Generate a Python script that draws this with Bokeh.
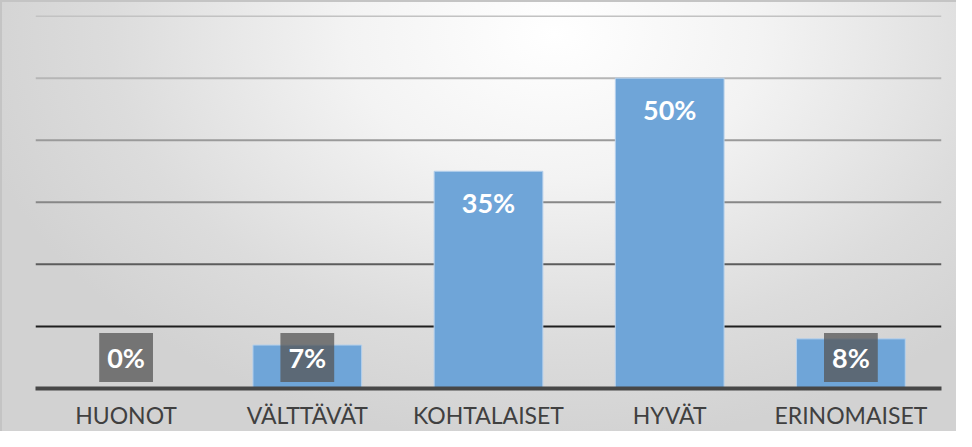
from bokeh.plotting import figure
from bokeh.models import ColumnDataSource, Span, FactorRange
from bokeh.core.properties import value
from bokeh.embed import file_html
from bokeh.resources import INLINE

categories = ["HUONOT", "VÄLTTÄVÄT", "KOHTALAISET", "HYVÄT", "ERINOMAISET"]
values = [0.0, 0.07, 0.35, 0.50, 0.08]
labels = ["0%", "7%", "35%", "50%", "8%"]
grid_values = [0.1, 0.2, 0.3, 0.4, 0.5, 0.6]
grid_colors = ["#1f1f1f", "#5c5c5c", "#878787", "#9a9a9a", "#b6b6b6", "#c2c2c2"]

FONT = "Lato"

p = figure(
    x_range=FactorRange(factors=categories, range_padding=0),
    y_range=(0, 0.601),
    width=956, height=431,
    output_backend="svg", toolbar_location=None,
    min_border_left=35, min_border_right=15,
    min_border_top=15, min_border_bottom=42,
)
p.background_fill_color = None
p.border_fill_color = None
p.outline_line_color = None
p.styles = {
    "background": "radial-gradient(ellipse 62% 95% at 58% 8%, #ffffff 0%, #f3f3f3 35%, #dcdcdc 75%, #d2d2d2 100%)",
    "box-shadow": "inset 2px 2px 0 0 #c4c4c4",
}

p.yaxis.visible = False
p.xgrid.grid_line_color = None
p.ygrid.grid_line_color = None

for gv, gc in zip(grid_values, grid_colors):
    p.add_layout(Span(location=gv, dimension="width", line_color=gc,
                      line_width=2, level="underlay"))

src = ColumnDataSource(dict(cats=categories, vals=values, labs=labels))
p.vbar(x="cats", top="vals", width=0.6, source=src,
       fill_color="#6fa5d8", line_color="#b7d1ec", line_width=1)

base_idx = [i for i, v in enumerate(values) if v < 0.1]
end_idx = [i for i, v in enumerate(values) if v >= 0.1]
base_src = ColumnDataSource(dict(cats=[categories[i] for i in base_idx],
                                 base=[0.0 for i in base_idx],
                                 labs=[labels[i] for i in base_idx]))
end_src = ColumnDataSource(dict(cats=[categories[i] for i in end_idx],
                                vals=[values[i] for i in end_idx],
                                labs=[labels[i] for i in end_idx]))

p.text(x="cats", y="base", text="labs", source=base_src,
       y_offset=-31, text_align="center", text_baseline="middle",
       text_color="white", text_font=value(FONT), text_font_style="bold",
       text_font_size="27px",
       background_fill_color="#575757", background_fill_alpha=0.76,
       padding=8)
p.text(x="cats", y="vals", text="labs", source=end_src,
       y_offset=31, text_align="center", text_baseline="middle",
       text_color="white", text_font=value(FONT), text_font_style="bold",
       text_font_size="27px")

ax = p.xaxis[0]
ax.axis_line_color = "#474747"
ax.axis_line_width = 4
ax.major_tick_line_color = None
ax.minor_tick_line_color = None
ax.major_tick_out = 0
ax.major_label_standoff = 12
ax.major_label_text_font = FONT
ax.major_label_text_font_size = "23px"
ax.major_label_text_color = "#404040"

open("out.html", "w").write(file_html(p, INLINE))
